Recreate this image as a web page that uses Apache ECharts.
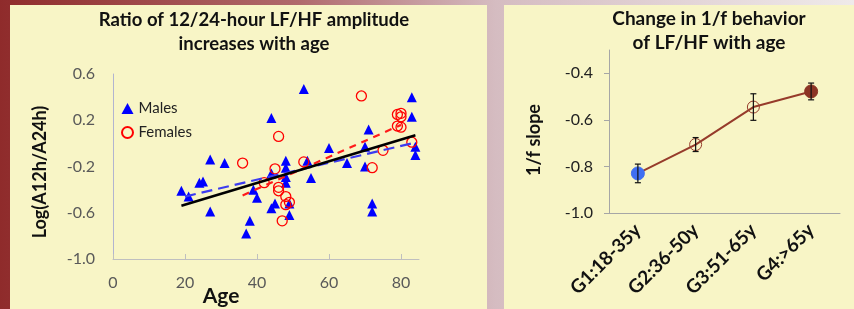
<!DOCTYPE html>
<html>
<head>
<meta charset="utf-8">
<title>LF/HF with age</title>
<script src="https://cdn.jsdelivr.net/npm/echarts@6/dist/echarts.min.js"></script>
</head>
<body style="margin:0">
<div id="chart_div" style="width:854px; height:309px"></div>
<script>
// left chart: log ratio per subject
var maleAge = [19, 21, 24, 25, 27, 27, 31, 37, 38, 39, 40, 44, 44, 44, 45, 48, 48, 48, 48, 49, 49, 53, 54, 55, 60, 65, 70, 70, 71, 72, 72, 83, 83, 84, 84];
var maleLog = [-0.41, -0.46, -0.34, -0.33, -0.14, -0.59, -0.17, -0.78, -0.67, -0.40, -0.47, 0.22, -0.26, -0.56, -0.52, -0.15, -0.21, -0.29, -0.34, -0.52, -0.62, 0.47, -0.15, -0.30, -0.04, -0.17, -0.03, -0.20, 0.12, -0.52, -0.59, 0.40, 0.23, -0.03, -0.10];
var femaleAge = [36, 42, 45, 46, 46, 46, 47, 48, 48, 49, 53, 69, 72, 75, 79, 79, 80, 80, 80, 83];
var femaleLog = [-0.17, -0.34, -0.22, 0.06, -0.38, -0.41, -0.67, -0.46, -0.53, -0.51, -0.16, 0.41, -0.21, -0.06, 0.25, 0.15, 0.26, 0.23, 0.14, 0.01];

// trend line end points
var allFitAge = [19, 84];
var allFitLog = [-0.54, 0.07];
var maleFitAge = [20, 83];
var maleFitLog = [-0.46, 0.0];
var femaleFitAge = [36, 80];
var femaleFitLog = [-0.45, 0.16];

var ageTicks = [0, 20, 40, 60, 80];

// right chart: 1/f slope per age group
var groups = ['G1:18-35y', 'G2:36-50y', 'G3:51-65y', 'G4:>65y'];
var slope = [-0.83, -0.706, -0.545, -0.478];
var slopeErr = [0.04, 0.03, 0.057, 0.036];
var slopeTicks = [-1.0, -0.8, -0.6, -0.4];

function pairs(a, b){
    var out = [];
    for(var i = 0; i < a.length; i++){
        out.push([a[i], b[i]]);
    }
    return out;
}

var font = 'Lato';
var brown = '#963b2b';

var slopeData = [];
for(var i = 0; i < slope.length; i++){
    var st = {color: 'rgba(0,0,0,0)', borderColor: brown, borderWidth: 1};
    var size = 12;
    if(i == 0){ st = {color: '#3f6ff2', borderColor: '#3f6ff2'}; size = 13; }
    if(i == 3){ st = {color: '#8c3424', borderColor: '#8c3424'}; size = 13; }
    slopeData.push({value: slope[i], itemStyle: st, symbolSize: size});
}
var errData = [];
for(var i = 0; i < slope.length; i++){
    errData.push([i, slope[i] - slopeErr[i], slope[i] + slopeErr[i]]);
}

var myChart = echarts.init(document.getElementById('chart_div'));
var option = {
    animation: false,
    graphic: [
        {type: 'rect', z: -10, shape: {x: 0, y: 0, width: 854, height: 309},
         style: {fill: new echarts.graphic.LinearGradient(0, 0, 1, 0, [
            {offset: 0, color: '#8f2b2b'},
            {offset: 0.35, color: '#b06a6c'},
            {offset: 0.58, color: '#d5bcc1'},
            {offset: 1, color: '#efeaea'}])}},
        {type: 'rect', z: -9, shape: {x: 10, y: 5, width: 477, height: 304}, style: {fill: '#f8f5c6'}},
        {type: 'rect', z: -9, shape: {x: 504, y: 5, width: 350, height: 304}, style: {fill: '#f8f5c6'}},
        {type: 'text', x: 40, y: 172, rotation: Math.PI / 2,
         style: {text: 'Log(A12h/A24h)', fontSize: 18, fontWeight: 'bold', fontFamily: font, fill: '#111', align: 'center', verticalAlign: 'middle'}},
        {type: 'text', x: 221, y: 296,
         style: {text: 'Age', fontSize: 21, fontWeight: 'bold', fontFamily: font, fill: '#111', align: 'center', verticalAlign: 'middle'}},
        {type: 'text', x: 534, y: 140, rotation: Math.PI / 2,
         style: {text: '1/f slope', fontSize: 18, fontWeight: 'bold', fontFamily: font, fill: '#111', align: 'center', verticalAlign: 'middle'}}
    ],
    title: [
        {text: 'Ratio of 12/24-hour LF/HF amplitude\nincreases with age', left: 249, top: 3, textAlign: 'center',
         textStyle: {fontSize: 18.5, fontWeight: 'bold', fontFamily: font, color: '#111', lineHeight: 24}},
        {text: 'Change in 1/f behavior\nof LF/HF with age', left: 704, top: 2, textAlign: 'center',
         textStyle: {fontSize: 19, fontWeight: 'bold', fontFamily: font, color: '#111', lineHeight: 24}}
    ],
    legend: {
        data: ['Males', 'Females'],
        orient: 'vertical',
        left: 116, top: 96,
        itemGap: 9,
        itemWidth: 12, itemHeight: 11,
        textStyle: {fontSize: 15, fontFamily: font, color: '#222'}
    },
    grid: [
        {left: 113, top: 74, width: 306, height: 185},
        {left: 609, top: 50, width: 231, height: 163}
    ],
    xAxis: [
        {type: 'value', gridIndex: 0, min: 0, max: 85,
         axisLine: {onZero: false, lineStyle: {color: '#bfbfbf'}},
         axisTick: {show: true, inside: true, length: 5, customValues: ageTicks, lineStyle: {color: '#bfbfbf'}},
         axisLabel: {customValues: ageTicks, margin: 16, fontSize: 16, fontFamily: font, color: '#595959'},
         splitLine: {show: false}},
        {type: 'category', gridIndex: 1, data: groups,
         axisLine: {lineStyle: {color: '#a6a6a6'}},
         axisTick: {length: 6, lineStyle: {color: '#a6a6a6'}},
         axisLabel: {rotate: 45, interval: 0, margin: 14, fontSize: 19, fontWeight: 'bold', fontFamily: font, color: '#111'}}
    ],
    yAxis: [
        {type: 'value', gridIndex: 0, min: -1.0, max: 0.6, interval: 0.4,
         axisLine: {show: true, onZero: false, lineStyle: {color: '#b2b4d0'}},
         axisTick: {show: false},
         axisLabel: {margin: 18, fontSize: 16, fontFamily: font, color: '#595959', formatter: function(v){ return v.toFixed(1); }},
         splitLine: {show: false}},
        {type: 'value', gridIndex: 1, min: -1.0, max: -0.3,
         axisLine: {show: true, onZero: false, lineStyle: {color: '#a6a6a6'}},
         axisTick: {show: true, length: 5, customValues: slopeTicks, lineStyle: {color: '#a6a6a6'}},
         axisLabel: {customValues: slopeTicks, margin: 16, fontSize: 16, fontFamily: font, color: '#222', formatter: function(v){ return v.toFixed(1); }},
         splitLine: {show: false}}
    ],
    series: [
        {name: 'Males', type: 'scatter', xAxisIndex: 0, yAxisIndex: 0, symbol: 'triangle', symbolSize: 10,
         itemStyle: {color: '#0000ff', opacity: 1}, data: pairs(maleAge, maleLog)},
        {name: 'Females', type: 'scatter', xAxisIndex: 0, yAxisIndex: 0, symbol: 'circle', symbolSize: 10,
         itemStyle: {color: 'rgba(0,0,0,0)', borderColor: '#ff0000', borderWidth: 1.3, opacity: 1}, data: pairs(femaleAge, femaleLog)},
        {name: 'maleFit', type: 'line', xAxisIndex: 0, yAxisIndex: 0, symbol: 'none', z: 5,
         lineStyle: {color: '#3c3cf0', width: 2.2, type: [11, 6]}, data: pairs(maleFitAge, maleFitLog)},
        {name: 'femaleFit', type: 'line', xAxisIndex: 0, yAxisIndex: 0, symbol: 'none', z: 5,
         lineStyle: {color: '#ff1a1a', width: 2.2, type: [7, 6]}, data: pairs(femaleFitAge, femaleFitLog)},
        {name: 'allFit', type: 'line', xAxisIndex: 0, yAxisIndex: 0, symbol: 'none', z: 6,
         lineStyle: {color: '#000', width: 2.5}, data: pairs(allFitAge, allFitLog)},
        {name: 'slope', type: 'line', xAxisIndex: 1, yAxisIndex: 1, symbol: 'circle', z: 4,
         lineStyle: {color: brown, width: 2}, data: slopeData},
        {name: 'err', type: 'custom', xAxisIndex: 1, yAxisIndex: 1, z: 5,
         renderItem: function(params, api){
            var lo = api.coord([api.value(0), api.value(1)]);
            var hi = api.coord([api.value(0), api.value(2)]);
            var c = 3;
            var s = {stroke: '#111', lineWidth: 1.2};
            return {type: 'group', children: [
                {type: 'line', shape: {x1: lo[0], y1: lo[1], x2: hi[0], y2: hi[1]}, style: s},
                {type: 'line', shape: {x1: lo[0] - c, y1: lo[1], x2: lo[0] + c, y2: lo[1]}, style: s},
                {type: 'line', shape: {x1: hi[0] - c, y1: hi[1], x2: hi[0] + c, y2: hi[1]}, style: s}
            ]};
         },
         data: errData}
    ]
};
myChart.setOption(option);
</script>
</body>
</html>
